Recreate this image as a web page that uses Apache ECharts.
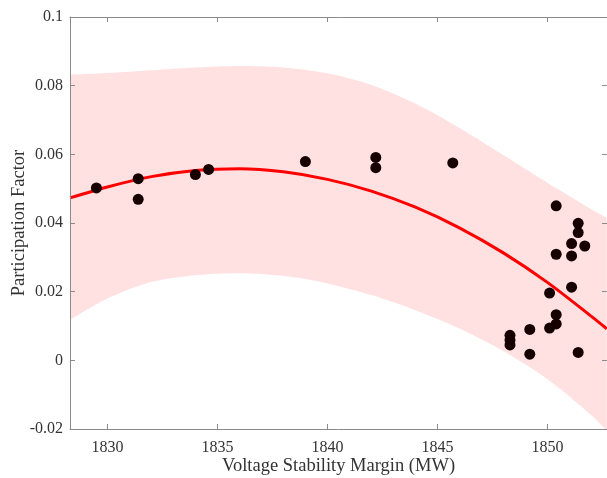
<!DOCTYPE html>
<html>
<head>
<meta charset="utf-8">
<script src="https://cdn.jsdelivr.net/npm/echarts@6/dist/echarts.min.js"></script>
<style>
  html, body { margin: 0; padding: 0; background: #fff; }
  #chart { width: 607px; height: 478px; }
</style>
</head>
<body>
<div id="chart"></div>
<script>
// 散点数据
var dotX = [1829.5, 1831.4, 1831.4, 1834.0, 1834.6, 1839.0, 1842.2, 1842.2, 1845.7,
  1850.4, 1851.4, 1851.4, 1851.1, 1851.7, 1850.4, 1851.1, 1851.1, 1850.1, 1850.4,
  1850.4, 1850.1, 1849.2, 1848.3, 1848.3, 1848.3, 1849.2, 1851.4];
var dotY = [0.0502, 0.0529, 0.0469, 0.0541, 0.0556, 0.0579, 0.0591, 0.0561, 0.0575,
  0.0450, 0.0399, 0.0372, 0.0340, 0.0333, 0.0309, 0.0304, 0.0213, 0.0196, 0.0133,
  0.0106, 0.0094, 0.0090, 0.0073, 0.0059, 0.0045, 0.0018, 0.0023];

// 拟合曲线与置信区间（同一组x）
var curveX = [1828.3, 1830, 1832, 1834, 1836, 1838, 1840, 1842, 1844, 1846, 1848, 1850, 1852, 1852.7];
var fitY = [0.0473, 0.0505, 0.0535, 0.0553, 0.0558, 0.0549, 0.0527, 0.0493, 0.0446, 0.0386, 0.0313, 0.0227, 0.0128, 0.0092];
var bandUpper = [0.0832, 0.0837, 0.0845, 0.0853, 0.0857, 0.0853, 0.0836, 0.0802, 0.0748, 0.0677, 0.0598, 0.0517, 0.0440, 0.0415];
var bandLower = [0.0117, 0.0180, 0.0228, 0.0248, 0.0254, 0.0246, 0.0224, 0.0190, 0.0146, 0.0093, 0.0027, -0.0055, -0.0160, -0.0205];

// 刻度
var xTicks = [1830, 1835, 1840, 1845, 1850];
var yTicks = [-0.02, 0, 0.02, 0.04, 0.06, 0.08, 0.1];
var xMin = 1828.3, xMax = 1852.71;

var font = "'Liberation Serif', 'Times New Roman', serif";
var axisGray = "#8a8a8a";
var textColor = "#333";

var myChart = echarts.init(document.getElementById("chart"));

var upperData = [], lowerData = [], fitData = [], dotData = [];
for (var i = 0; i < curveX.length; i++) {
  upperData.push([curveX[i], bandUpper[i]]);
  lowerData.push([curveX[i], bandLower[i]]);
  fitData.push([curveX[i], fitY[i]]);
}
for (var k = 0; k < dotX.length; k++) dotData.push([dotX[k], dotY[k]]);

function xAxisBase(pos, show) {
  return {
    type: "value",
    position: pos,
    min: xMin,
    max: xMax,
    z: 5,
    axisLine: { show: true, onZero: false, lineStyle: { color: axisGray, width: 1 } },
    axisTick: { show: true, inside: true, length: 5, customValues: xTicks, lineStyle: { color: axisGray } },
    axisLabel: {
      show: show,
      customValues: xTicks,
      margin: 11,
      color: textColor,
      fontFamily: font,
      fontSize: 16,
      formatter: function (v) { return String(v); }
    },
    splitLine: { show: false }
  };
}

function yAxisBase(pos, show) {
  return {
    type: "value",
    position: pos,
    min: -0.02,
    max: 0.1,
    z: 5,
    axisLine: { show: true, onZero: false, lineStyle: { color: axisGray, width: 1 } },
    axisTick: { show: true, inside: true, length: 5, customValues: yTicks, lineStyle: { color: axisGray } },
    axisLabel: {
      show: show,
      customValues: yTicks,
      margin: 7,
      color: textColor,
      fontFamily: font,
      fontSize: 16,
      formatter: function (v) { return String(Math.round(v * 100) / 100); }
    },
    splitLine: { show: false }
  };
}

var xBottom = xAxisBase("bottom", true);
xBottom.name = "Voltage Stability Margin (MW)";
xBottom.nameLocation = "middle";
xBottom.nameGap = 28;
xBottom.nameMoveOverlap = false;
xBottom.nameTextStyle = { color: textColor, fontFamily: font, fontSize: 18.5 };

var yLeft = yAxisBase("left", true);
yLeft.name = "Participation Factor";
yLeft.nameLocation = "middle";
yLeft.nameGap = 41;
yLeft.nameMoveOverlap = false;
yLeft.nameTextStyle = { color: textColor, fontFamily: font, fontSize: 18.5 };

var option = {
  animation: false,
  backgroundColor: "#fff",
  grid: { left: 70, right: 0, top: 17, bottom: 49, containLabel: false, outerBoundsMode: "none" },
  xAxis: [xBottom, xAxisBase("top", false)],
  yAxis: [yLeft, yAxisBase("right", false)],
  series: [
    {
      // 置信区间上界，填充到底部
      type: "line",
      data: upperData,
      smooth: 0.3,
      symbol: "none",
      lineStyle: { opacity: 0 },
      areaStyle: { color: "#ffe1e2", opacity: 1, origin: "start" },
      silent: true,
      z: 1
    },
    {
      // 置信区间下界，白色覆盖
      type: "line",
      data: lowerData,
      smooth: 0.3,
      symbol: "none",
      lineStyle: { opacity: 0 },
      areaStyle: { color: "#ffffff", opacity: 1, origin: "start" },
      silent: true,
      z: 1
    },
    {
      // 拟合曲线
      type: "line",
      data: fitData,
      smooth: 0.3,
      symbol: "none",
      lineStyle: { color: "#ff0000", width: 3 },
      z: 3
    },
    {
      type: "scatter",
      data: dotData,
      symbol: "circle",
      symbolSize: 11,
      itemStyle: { color: "#160000", opacity: 1 },
      z: 4
    }
  ]
};

option && myChart.setOption(option);
</script>
</body>
</html>
